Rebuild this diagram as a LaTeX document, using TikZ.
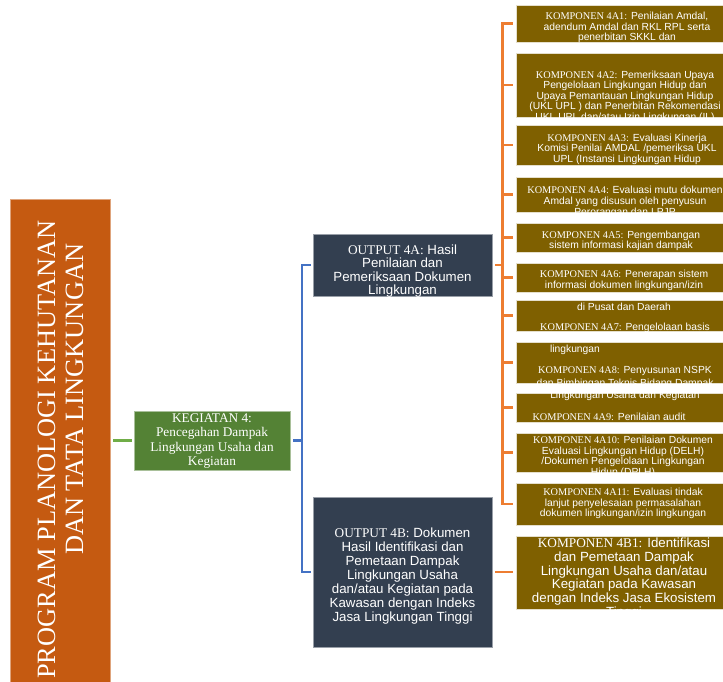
\documentclass[tikz,border=0pt]{standalone}
\usepackage{fontspec}
\setmainfont{Liberation Serif}
\setsansfont{Liberation Sans}
\usetikzlibrary{positioning, calc}

\definecolor{progorange}{RGB}{197, 90, 17}
\definecolor{kegreen}{RGB}{84, 130, 53}
\definecolor{outslate}{RGB}{51, 63, 80}
\definecolor{kompgold}{RGB}{127, 96, 0}
\definecolor{linkorange}{RGB}{237, 125, 49}
\definecolor{linkblue}{RGB}{68, 114, 196}
\definecolor{linkgreen}{RGB}{112, 173, 71}

\begin{document}
\begin{tikzpicture}[x=1pt, y=-1pt,
  progbox/.style={fill=progorange, draw=progorange!55!white, line width=0.6pt, inner sep=0pt},
  kegbox/.style={fill=kegreen, draw=kegreen!50!white, line width=0.6pt, inner sep=0pt},
  outbox/.style={fill=outslate, draw=outslate!50!white, line width=0.6pt, inner sep=0pt, minimum width=179pt},
  kompbox/.style={fill=kompgold, draw=kompgold!20!white, line width=0.6pt, inner sep=0pt, minimum width=224pt},
  boxtext/.style={text=white, align=center, inner sep=0pt},
  komptext/.style={boxtext, font=\sffamily\fontsize{10.3}{10.5}\selectfont},
  bigtext/.style={boxtext, font=\sffamily\fontsize{13.3}{13.8}\selectfont},
  progtext/.style={text=white, inner sep=0pt, rotate=90, anchor=base west, font=\rmfamily\fontsize{26.4}{28}\selectfont},
  orlink/.style={draw=linkorange, line width=2.6pt, shorten <=3pt, shorten >=3pt},
  bluelink/.style={draw=linkblue, line width=2.3pt, shorten <=3pt, shorten >=2pt},
  grlink/.style={draw=linkgreen, line width=2.7pt, shorten <=3pt, shorten >=2pt}
]
  \useasboundingbox (0,0) rectangle (723,681);
  \clip (0,0) rectangle (723,681);

  % boxes
  \node[progbox, minimum width=100pt, minimum height=496pt] (progbox) at (60,447) {};
  \node[kegbox, minimum width=156pt, minimum height=59pt] (keg) at (212,440.5) {};
  \node[outbox, minimum height=62pt] (o4a) at (402.5,265) {};
  \node[outbox, minimum height=150pt] (o4b) at (402.5,572) {};
  \foreach \n/\c/\h in {4a1/23.5/37, 4a2/85/64, 4a3/145/40, 4a4/194.5/35, 4a5/237.5/29,
      4a6/277.5/29, 4a7/315.5/31, 4a8/362.5/41, 4a9/407.5/29, 4a10/452.5/39, 4a11/504/42,
      4b1/572.5/73}
    \node[kompbox, minimum height=\h pt] (k\n) at (628,\c) {};

  % connectors
  \draw[grlink] (keg.west -| progbox.east) -- (keg.west);
  \draw[bluelink] (keg.east) -| ([xshift=-11pt]o4a.west) -- (o4a.west);
  \draw[bluelink] (keg.east) -| ([xshift=-11pt]o4b.west) -- (o4b.west);
  \foreach \n in {4a1,4a2,4a3,4a4,4a5,4a6,4a7,4a8,4a9,4a10,4a11}
    \draw[orlink] (o4a.east) -| ([xshift=-13pt]k\n.west) -- (k\n.west);
  \draw[orlink] (o4b.east) -- (o4b.east -| k4b1.west);

  % texts
  \node[progtext] (prog1) at (55,679) {PROGRAM PLANOLOGI KEHUTANAN};
  \node[progtext] (prog2) at (83,555) {DAN TATA LINGKUNGAN};
  \node[boxtext, font=\rmfamily\fontsize{13.3}{14.3}\selectfont] (tkeg) at (212,441)
    {KEGIATAN 4:\\Pencegahan Dampak\\Lingkungan Usaha dan\\Kegiatan};
  \node[bigtext, font=\sffamily\fontsize{13.3}{13.4}\selectfont] (to4a) at (402.5,271)
    {{\rmfamily OUTPUT 4A:} Hasil\\Penilaian dan\\Pemeriksaan Dokumen\\Lingkungan};
  \node[bigtext, font=\sffamily\fontsize{13.3}{14}\selectfont] (to4b) at (402.5,576)
    {{\rmfamily OUTPUT 4B:} Dokumen\\Hasil Identifikasi dan\\Pemetaan Dampak\\Lingkungan Usaha\\dan/atau Kegiatan pada\\Kawasan dengan Indeks\\Jasa Lingkungan Tinggi};

  \node[komptext] (t4a1) at (627,27.5)
    {{\rmfamily KOMPONEN 4A1:} Penilaian Amdal,\\adendum Amdal dan RKL RPL serta\\penerbitan SKKL dan};
  \node[komptext] (t4a2) at (625,96.5)
    {{\rmfamily KOMPONEN 4A2:} Pemeriksaan Upaya\\Pengelolaan Lingkungan Hidup dan\\Upaya Pemantauan Lingkungan Hidup\\(UKL UPL ) dan Penerbitan Rekomendasi\\UKL UPL dan/atau Izin Lingkungan (IL)};
  \node[komptext] (t4a3) at (627,149)
    {{\rmfamily KOMPONEN 4A3:} Evaluasi Kinerja\\Komisi Penilai AMDAL /pemeriksa UKL\\UPL (Instansi Lingkungan Hidup};
  \node[komptext, font=\sffamily\fontsize{10.3}{11}\selectfont] (t4a4) at (625,202)
    {{\rmfamily KOMPONEN 4A4:} Evaluasi mutu dokumen\\Amdal yang disusun oleh penyusun\\Perorangan dan LPJP};
  \node[komptext] (t4a5) at (621,241)
    {{\rmfamily KOMPONEN 4A5:} Pengembangan\\sistem informasi kajian dampak};
  \node[komptext, font=\sffamily\fontsize{10.3}{11}\selectfont] (t4a6) at (624,290.5)
    {{\rmfamily KOMPONEN 4A6:} Penerapan sistem\\informasi dokumen lingkungan/izin\\[11pt]di Pusat dan Daerah};
  \node[komptext] (t4a7) at (625,328)
    {{\rmfamily KOMPONEN 4A7:} Pengelolaan basis};
  \node[komptext] (t4a7b) at (575,350) {lingkungan};
  \node[komptext] (t4a8) at (625,383.5)
    {{\rmfamily KOMPONEN 4A8:} Penyusunan NSPK\\[2pt]dan Bimbingan Teknis Bidang Dampak\\[2pt]Lingkungan Usaha dan Kegiatan};
  \node[komptext] (t4a9) at (609,417) {{\rmfamily KOMPONEN 4A9:} Penilaian audit};
  \node[komptext] (t4a10) at (623,457)
    {{\rmfamily KOMPONEN 4A10:} Penilaian Dokumen\\Evaluasi Lingkungan Hidup (DELH)\\/Dokumen Pengelolaan Lingkungan\\Hidup (DPLH)};
  \node[komptext] (t4a11) at (623,503.5)
    {{\rmfamily KOMPONEN 4A11:} Evaluasi tindak\\lanjut penyelesaian permasalahan\\dokumen lingkungan/izin lingkungan};
  \node[bigtext] (t4b1) at (624,578.5)
    {{\rmfamily KOMPONEN 4B1:} Identifikasi\\dan Pemetaan Dampak\\Lingkungan Usaha dan/atau\\Kegiatan pada Kawasan\\dengan Indeks Jasa Ekosistem\\Tinggi};
\end{tikzpicture}
\end{document}
